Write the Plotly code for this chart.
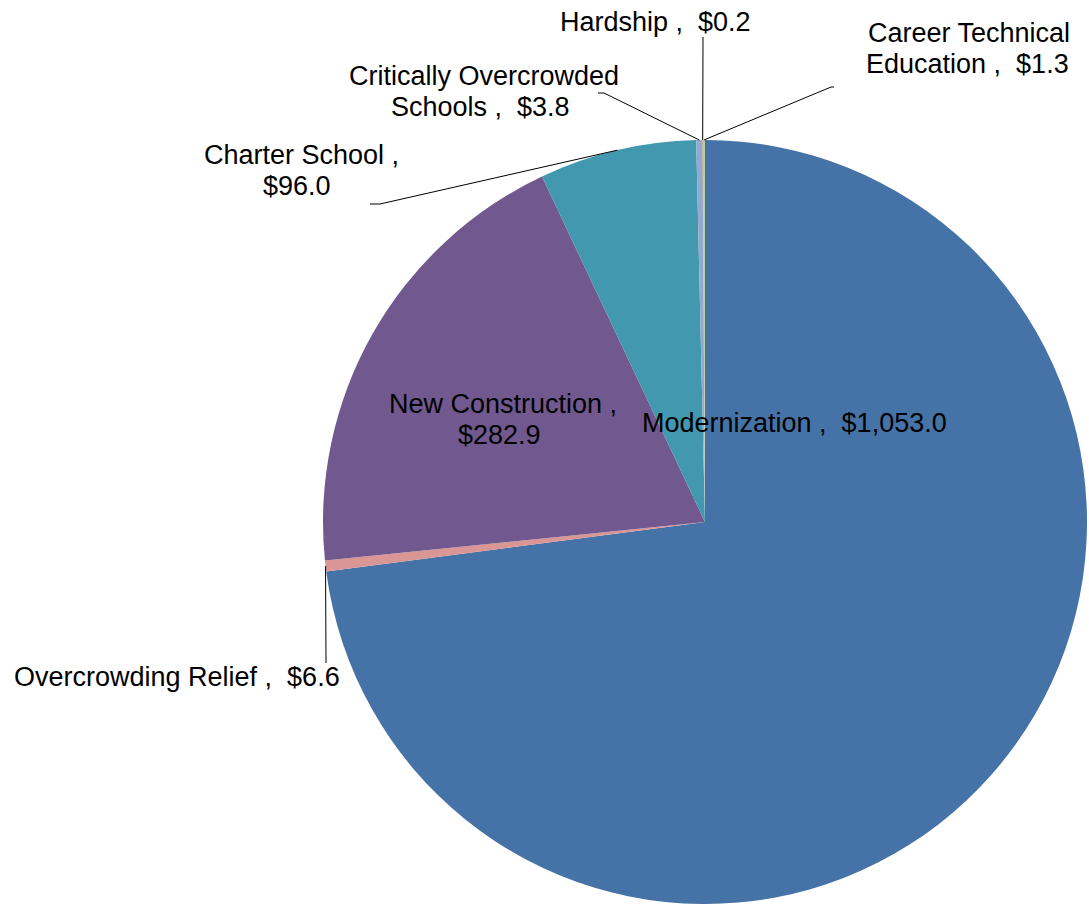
import math
import plotly.graph_objects as go

W, H = 1089, 905

# ---- data ----
categories = ["Modernization", "Overcrowding Relief", "New Construction", "Charter School",
              "Critically Overcrowded Schools", "Hardship", "Career Technical Education"]
values = [1053.0, 6.6, 282.9, 96.0, 3.8, 0.2, 1.3]
label_texts = [
    ["Modernization ,\u00a0 $1,053.0"],
    ["Overcrowding Relief ,\u00a0 $6.6"],
    ["New Construction ,", "$282.9"],
    ["Charter School ,", "$96.0"],
    ["Critically Overcrowded", "Schools ,\u00a0 $3.8"],
    ["Hardship ,\u00a0 $0.2"],
    ["Career Technical", "Education ,\u00a0 $1.3"],
]

# ---- style / layout ----
colors = ["#4572A7", "#D99694", "#71588F", "#4198AF", "#93A9CF", "#DB843D", "#B9CD96"]
CX, CY, R = 705, 522, 382          # pie centre and radius in pixels
FONT = dict(family="Liberation Sans, Arial, sans-serif", size=27, color="black")

# label line centres (pixels) per category
label_pos = [
    [(794, 423)],
    [(177, 677)],
    [(503, 404), (499, 435)],
    [(301, 155), (297, 186)],
    [(484, 76), (480, 107)],
    [(655, 22)],
    [(969, 33), (967, 64)],
]
# leader line outer points (pixels); None = no leader
leader_outer = [
    None,
    [(326, 663)],
    None,
    [(370, 204), (380, 204)],
    [(598, 93), (604, 93)],
    [(703, 37)],
    [(834, 87), (831, 87)],
]


def px(x, y):
    return x / W, 1 - y / H


total = sum(values)
fig = go.Figure(go.Pie(
    labels=categories, values=values, sort=False, direction="clockwise", rotation=0,
    marker=dict(colors=colors, line=dict(width=0)), textinfo="none", hoverinfo="label+value",
    domain=dict(x=[(CX - R) / W, (CX + R) / W], y=[1 - (CY + R) / H, 1 - (CY - R) / H]),
    showlegend=False,
))

annotations = []
shapes = []
cum = 0.0
for i, v in enumerate(values):
    mid = (cum + v / 2) / total * 2 * math.pi
    cum += v
    ex, ey = CX + R * math.sin(mid), CY - R * math.cos(mid)
    for txt, (lx, ly) in zip(label_texts[i], label_pos[i]):
        ax, ay = px(lx, ly)
        annotations.append(dict(x=ax, y=ay, xref="paper", yref="paper", text=txt, showarrow=False,
                                xanchor="center", yanchor="middle", font=FONT))
    if leader_outer[i]:
        pts = leader_outer[i] + [(ex, ey)]
        path = "M " + " L ".join(f"{px(x, y)[0]},{px(x, y)[1]}" for x, y in pts)
        shapes.append(dict(type="path", path=path, xref="paper", yref="paper",
                           line=dict(color="black", width=1)))

fig.update_layout(width=W, height=H, margin=dict(l=0, r=0, t=0, b=0),
                  paper_bgcolor="white", plot_bgcolor="white",
                  annotations=annotations, shapes=shapes)
fig.write_html("out.html", config={"displayModeBar": False},
               post_script="document.body.style.margin='0';document.body.style.overflow='hidden';")
